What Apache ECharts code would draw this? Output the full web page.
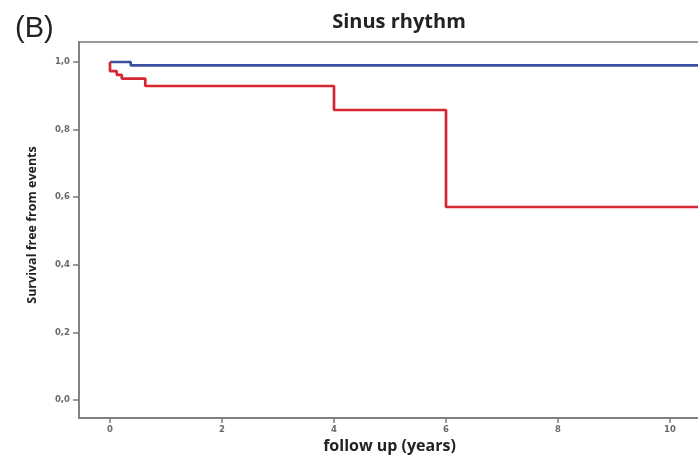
<!DOCTYPE html>
<html>
<head>
<meta charset="utf-8">
<script src="https://cdn.jsdelivr.net/npm/echarts@6/dist/echarts.min.js"></script>
<style>html,body{margin:0;padding:0;background:#fff;}#c{width:698px;height:458px;}</style>
</head>
<body>
<div id="c"></div>
<script>
// Data (Kaplan–Meier step points: time in years, survival)
const blueTimes = [0, 0.37, 10.6];
const blueSurv  = [1.0, 0.99, 0.99];
const redTimes  = [0, 0, 0.12, 0.21, 0.63, 4.0, 6.0, 10.6];
const redSurv   = [1.0, 0.973, 0.962, 0.951, 0.929, 0.858, 0.571, 0.571];
const xTicks = [0, 2, 4, 6, 8, 10];
const yTicks = [0, 0.2, 0.4, 0.6, 0.8, 1.0];

const chart = echarts.init(document.getElementById('c'), null, {renderer: 'canvas'});
const pair = (t, s) => t.map((v, i) => [v, s[i]]);
const tickFont = {fontFamily: 'DejaVu Sans', fontSize: 8.5, fontWeight: 'bold', color: '#6a6a6a'};
const frameColor = '#7a7a7a';

chart.setOption({
  animation: false,
  backgroundColor: '#fff',
  title: [
    {text: 'Sinus rhythm', left: 394, top: 7, textAlign: 'center',
     textStyle: {fontFamily: 'Open Sans', fontWeight: 'bold', fontSize: 20, color: '#222'}},
    {text: '(B)', left: 10, top: 9,
     textStyle: {fontFamily: 'Liberation Sans', fontWeight: 'normal', fontSize: 29, color: '#222'}}
  ],
  grid: {left: 79, right: -2, top: 42, bottom: 40, show: true, borderColor: frameColor, borderWidth: 1.5,
         backgroundColor: 'transparent', outerBoundsMode: 'none', containLabel: false},
  xAxis: {type: 'value', min: -0.5536, max: 10.536,
     axisLine: {show: true, onZero: false, lineStyle: {color: frameColor, width: 1.5}},
     axisTick: {show: true, inside: false, length: 5, lineStyle: {color: frameColor, width: 1.5},
                customValues: xTicks},
     axisLabel: {show: true, margin: 7, ...tickFont, customValues: xTicks,
                 formatter: v => String(v)},
     splitLine: {show: false},
     name: 'follow up (years)', nameLocation: 'middle', nameGap: 16,
     nameTextStyle: {fontFamily: 'Open Sans', fontWeight: 'bold', fontSize: 16, color: '#222'}},
  yAxis: {type: 'value', min: -0.0533, max: 1.0592,
     axisLine: {show: true, onZero: false, lineStyle: {color: frameColor, width: 1.5}},
     axisTick: {show: true, inside: false, length: 6, lineStyle: {color: frameColor, width: 1.5},
                customValues: yTicks},
     axisLabel: {show: true, margin: 9, ...tickFont, customValues: yTicks,
                 formatter: v => v.toFixed(1).replace('.', ',')},
     splitLine: {show: false},
     name: 'Survival free from events', nameLocation: 'middle', nameGap: 40, nameRotate: 90,
     nameTextStyle: {fontFamily: 'Open Sans', fontWeight: 'bold', fontSize: 12.5, color: '#222',
                     padding: [0, 0, 0, 10]}},
  series: [
    {type: 'line', step: 'end', symbol: 'none', clip: true,
     data: pair(blueTimes, blueSurv), lineStyle: {color: '#3c4f9e', width: 2.7}, z: 3},
    {type: 'line', step: 'end', symbol: 'none', clip: true,
     data: pair(redTimes, redSurv), lineStyle: {color: '#d6262f', width: 2.7}, z: 4}
  ]
});
</script>
</body>
</html>
